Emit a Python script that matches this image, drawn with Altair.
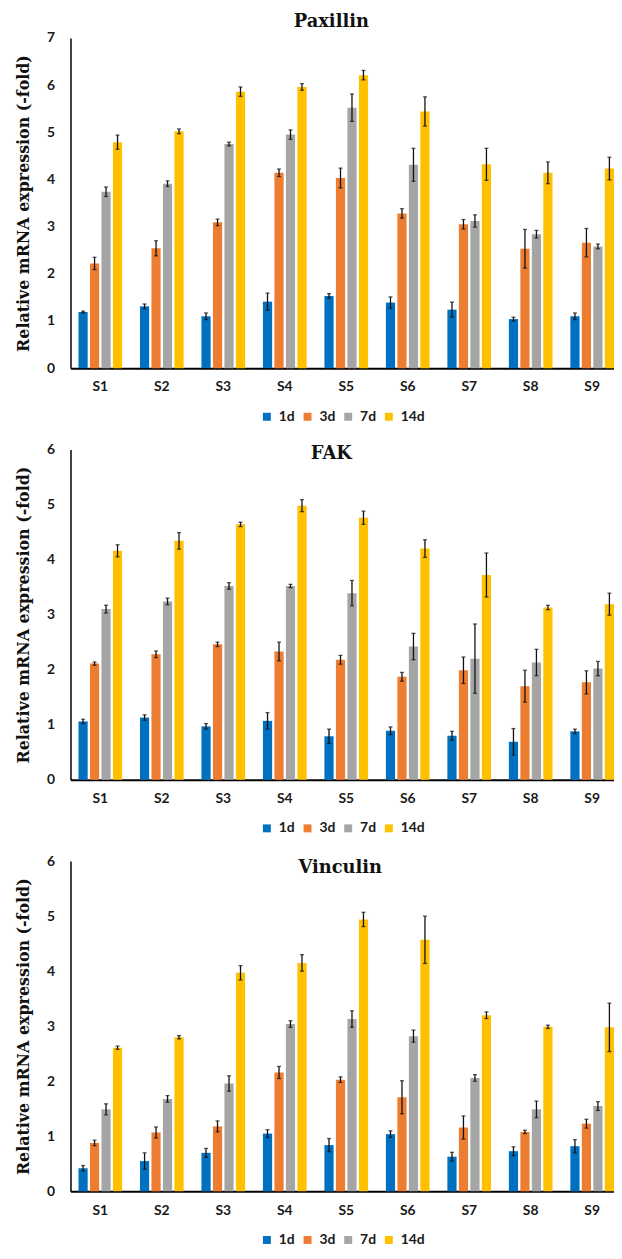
import altair as alt
import pandas as pd

samples = ["S1", "S2", "S3", "S4", "S5", "S6", "S7", "S8", "S9"]
series = ["1d", "3d", "7d", "14d"]
colors = ["#0070C0", "#ED7D31", "#A5A5A5", "#FFC000"]
ytitle = "Relative mRNA expression (-fold)"

# Paxillin
pax_1d = [1.19, 1.31, 1.10, 1.41, 1.53, 1.39, 1.24, 1.04, 1.10]
pax_3d = [2.22, 2.54, 3.09, 4.14, 4.03, 3.28, 3.05, 2.53, 2.66]
pax_7d = [3.74, 3.91, 4.75, 4.95, 5.52, 4.31, 3.12, 2.84, 2.58]
pax_14d = [4.79, 5.02, 5.86, 5.96, 6.21, 5.44, 4.32, 4.14, 4.23]
pax_1d_err = [0.02, 0.05, 0.07, 0.18, 0.05, 0.12, 0.16, 0.04, 0.07]
pax_3d_err = [0.13, 0.16, 0.07, 0.08, 0.21, 0.10, 0.10, 0.41, 0.30]
pax_7d_err = [0.10, 0.06, 0.04, 0.10, 0.29, 0.35, 0.13, 0.08, 0.05]
pax_14d_err = [0.15, 0.05, 0.10, 0.07, 0.10, 0.31, 0.34, 0.23, 0.24]

# FAK
fak_1d = [1.06, 1.13, 0.97, 1.07, 0.79, 0.89, 0.80, 0.69, 0.88]
fak_3d = [2.11, 2.28, 2.46, 2.33, 2.18, 1.87, 1.99, 1.70, 1.77]
fak_7d = [3.10, 3.24, 3.52, 3.52, 3.39, 2.42, 2.20, 2.13, 2.02]
fak_14d = [4.16, 4.34, 4.64, 4.98, 4.76, 4.20, 3.72, 3.13, 3.19]
fak_1d_err = [0.04, 0.05, 0.05, 0.15, 0.13, 0.07, 0.08, 0.24, 0.04]
fak_3d_err = [0.03, 0.06, 0.04, 0.17, 0.08, 0.08, 0.24, 0.29, 0.21]
fak_7d_err = [0.07, 0.06, 0.06, 0.03, 0.23, 0.24, 0.63, 0.24, 0.13]
fak_14d_err = [0.11, 0.15, 0.04, 0.11, 0.12, 0.16, 0.40, 0.04, 0.20]

# Vinculin
vin_1d = [0.42, 0.55, 0.70, 1.05, 0.84, 1.04, 0.63, 0.73, 0.82]
vin_3d = [0.88, 1.07, 1.18, 2.16, 2.03, 1.71, 1.16, 1.08, 1.23]
vin_7d = [1.49, 1.68, 1.96, 3.04, 3.13, 2.82, 2.06, 1.49, 1.55]
vin_14d = [2.61, 2.80, 3.97, 4.15, 4.94, 4.57, 3.20, 2.99, 2.98]
vin_1d_err = [0.05, 0.15, 0.08, 0.07, 0.12, 0.06, 0.08, 0.08, 0.12]
vin_3d_err = [0.05, 0.10, 0.10, 0.11, 0.05, 0.30, 0.21, 0.03, 0.08]
vin_7d_err = [0.10, 0.06, 0.14, 0.06, 0.15, 0.11, 0.06, 0.15, 0.08]
vin_14d_err = [0.03, 0.03, 0.13, 0.15, 0.13, 0.43, 0.06, 0.03, 0.44]

W = 548
H = 333


def panel(name, means, errs, ymax, t_offset, t_dx):
    rows = []
    for s, m_list, e_list in zip(series, means, errs):
        for smp, m, e in zip(samples, m_list, e_list):
            rows.append({"sample": smp, "series": s, "value": m,
                         "lo": m - e, "hi": m + e})
    df = pd.DataFrame(rows)

    x = alt.X("sample:N", sort=samples,
              scale=alt.Scale(paddingInner=0.29, paddingOuter=0.065, align=1),
              axis=alt.Axis(title=None, labelAngle=0, ticks=False,
                            domainColor="black", domainWidth=2,
                            labelFont="Lato", labelFontWeight="bold",
                            labelFontSize=14, labelPadding=12,
                            labelColor="#1a1a1a"))
    xo = alt.XOffset("series:N", sort=series,
                     scale=alt.Scale(paddingInner=0.2, paddingOuter=0))
    yscale = alt.Scale(domain=[0, ymax], nice=False)
    yaxis = alt.Axis(values=list(range(ymax + 1)), grid=False, ticks=False,
                     domainColor="black", domainWidth=1.5,
                     labelFont="Lato", labelFontWeight="bold",
                     labelFontSize=14, labelPadding=16, labelColor="#1a1a1a",
                     title=ytitle, titleFont="DejaVu Serif",
                     titleFontSize=16, titleFontWeight="bold",
                     titleColor="#111111", titlePadding=15)
    color = alt.Color("series:N", sort=series,
                      scale=alt.Scale(domain=series, range=colors),
                      legend=alt.Legend(title=None, orient="none",
                                        legendX=191, legendY=H + 42,
                                        direction="horizontal",
                                        symbolType="square", symbolSize=64,
                                        symbolStrokeWidth=0,
                                        labelFont="Lato",
                                        labelFontWeight="bold",
                                        labelFontSize=14, labelOffset=5,
                                        columnPadding=5,
                                        labelColor="#1a1a1a"))

    bars = alt.Chart(df).mark_bar().encode(
        x=x, xOffset=xo,
        y=alt.Y("value:Q", scale=yscale, axis=yaxis),
        color=color)
    rules = alt.Chart(df).mark_rule(color="#111111", strokeWidth=1.3).encode(
        x=x, xOffset=xo,
        y=alt.Y("lo:Q", scale=yscale, axis=yaxis), y2="hi:Q")
    cap_lo = alt.Chart(df).mark_tick(color="#111111", size=4, thickness=1.3).encode(
        x=x, xOffset=xo, y=alt.Y("lo:Q", scale=yscale, axis=yaxis))
    cap_hi = alt.Chart(df).mark_tick(color="#111111", size=4, thickness=1.3).encode(
        x=x, xOffset=xo, y=alt.Y("hi:Q", scale=yscale, axis=yaxis))

    return alt.layer(bars, rules, cap_lo, cap_hi).properties(
        width=W, height=H,
        title=alt.TitleParams(name, font="DejaVu Serif", fontSize=18,
                              fontWeight="bold", color="#111111",
                              offset=t_offset, dx=t_dx))


p1 = panel("Paxillin", [pax_1d, pax_3d, pax_7d, pax_14d],
           [pax_1d_err, pax_3d_err, pax_7d_err, pax_14d_err], 7, 0, -11)
p2 = panel("FAK", [fak_1d, fak_3d, fak_7d, fak_14d],
           [fak_1d_err, fak_3d_err, fak_7d_err, fak_14d_err], 6, -21, -11)
p3 = panel("Vinculin", [vin_1d, vin_3d, vin_7d, vin_14d],
           [vin_1d_err, vin_3d_err, vin_7d_err, vin_14d_err], 6, -23, -2)

chart = alt.vconcat(p1, p2, p3, spacing=19).resolve_legend(
    color="independent"
).configure_view(stroke=None).properties(
    padding={"left": 7, "top": 0, "right": 0, "bottom": 0}
)

chart.save("out.html", embed_options={"renderer": "svg", "actions": False})
